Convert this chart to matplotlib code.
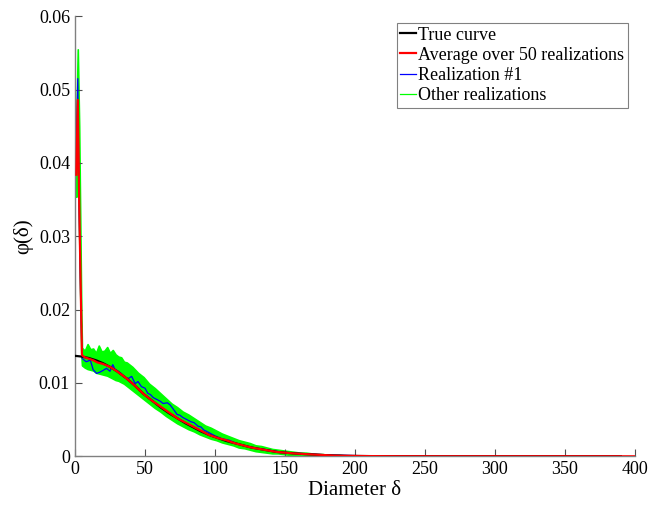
import numpy as np
import matplotlib
matplotlib.use('Agg')
import matplotlib.pyplot as plt
from matplotlib.lines import Line2D

plt.rcParams['font.family'] = ['Liberation Serif', 'DejaVu Serif']

# true curve
x_true = [0, 5, 10, 15, 20, 25, 30, 37, 43, 49, 55, 61, 67, 73, 79, 85, 90, 96, 102, 108,
          114, 120, 126, 132, 138, 144, 150, 156, 165, 175, 185, 195, 210, 230, 260, 390]
y_true = [0.0137, 0.0136, 0.0134, 0.0131, 0.0127, 0.0122, 0.0116, 0.0106, 0.0096, 0.0085,
          0.0076, 0.0067, 0.0059, 0.0052, 0.0045, 0.0039, 0.0034, 0.0029, 0.0025, 0.0021,
          0.0018, 0.0015, 0.0012, 0.0010, 0.0008, 0.0006, 0.0005, 0.0004, 0.0003, 0.0002,
          0.0001, 0.00006, 0.00003, 0.00001, 0.0, 0.0]

# average over 50 realizations
x_avg = [1, 2, 3, 4, 5, 7, 10, 13, 16, 20, 25, 30, 37, 43, 49, 55, 61, 67, 73, 79, 85, 90,
         96, 102, 108, 114, 120, 126, 132, 138, 144, 150, 156, 165, 175, 185, 195, 210, 230,
         260, 300, 350, 400]
y_avg = [0.0384, 0.0486, 0.035, 0.024, 0.0138, 0.0135, 0.0133, 0.0131, 0.0128, 0.0126,
         0.0122, 0.0116, 0.0106, 0.0096, 0.0085, 0.0076, 0.0068, 0.0060, 0.0052, 0.0046,
         0.0040, 0.0035, 0.0029, 0.0025, 0.0022, 0.0018, 0.0015, 0.0012, 0.0010, 0.0008,
         0.0006, 0.0005, 0.0004, 0.0003, 0.0002, 0.0001, 0.00006, 0.00003, 0.00001, 0.0,
         0.0, 0.0, 0.0]

# realization #1
x_r1 = [1, 2, 3, 4, 5, 6, 8, 11, 13, 15.5, 18, 20, 22.5, 25, 27, 28.5, 31, 33, 35.5, 38,
        40.5, 43, 45, 47.5, 50, 52, 54, 56, 58, 61, 63, 66, 68, 70, 73, 75, 77, 80, 83, 85,
        88, 90, 92, 95, 100, 105, 110, 115, 120, 125, 130, 140, 150, 160, 170, 180, 200,
        220, 250, 300, 390]
y_r1 = [0.042, 0.0515, 0.033, 0.022, 0.0134, 0.0132, 0.0129, 0.0131, 0.0118, 0.0113,
        0.0115, 0.0117, 0.0120, 0.0116, 0.0125, 0.0119, 0.0116, 0.0113, 0.0108, 0.0106,
        0.0109, 0.0099, 0.0102, 0.0095, 0.0093, 0.0086, 0.0084, 0.0080, 0.0078, 0.0075,
        0.0072, 0.0073, 0.0070, 0.0065, 0.0057, 0.0056, 0.0053, 0.0050, 0.0047, 0.0046,
        0.0041, 0.0040, 0.0036, 0.0033, 0.0028, 0.0024, 0.0022, 0.0018, 0.0015, 0.0013,
        0.0011, 0.0008, 0.0005, 0.0004, 0.0003, 0.0002, 0.0001, 0.00005, 0.0, 0.0, 0.0]

# spread of the other realizations (upper / lower edge)
x_oth = [1, 2, 3, 4.5, 5, 7, 9, 11, 13, 15, 17, 19, 21, 23, 25, 27, 29, 31, 33, 35, 37, 41,
         45, 49, 53, 57, 61, 65, 69, 73, 77, 81, 85, 89, 93, 97, 101, 105, 109, 113, 117,
         121, 125, 129, 133, 137, 141, 145, 149, 153, 157, 161, 165, 169, 173, 177, 181,
         185, 189, 193, 197, 201, 220, 260]
y_oth_hi = [0.046, 0.0555, 0.045, 0.020, 0.0148, 0.0144, 0.0153, 0.0146, 0.0147, 0.0141,
            0.0151, 0.0143, 0.0144, 0.0149, 0.0141, 0.0145, 0.0139, 0.0136, 0.0135, 0.0129,
            0.0128, 0.0122, 0.0114, 0.0108, 0.0099, 0.0093, 0.0086, 0.0079, 0.0072, 0.0067,
            0.0061, 0.0057, 0.0052, 0.0047, 0.0042, 0.0039, 0.0035, 0.0031, 0.0028, 0.0025,
            0.0022, 0.0020, 0.0018, 0.0015, 0.0014, 0.0012, 0.0010, 0.0009, 0.0008, 0.0007,
            0.0006, 0.0005, 0.0005, 0.0004, 0.0003, 0.0003, 0.0002, 0.0002, 0.0002, 0.0001,
            0.0001, 0.0001, 0.00005, 0.0]
y_oth_lo = [0.0354, 0.044, 0.030, 0.014, 0.0124, 0.0121, 0.0119, 0.0118, 0.0117, 0.0114,
            0.0113, 0.0112, 0.0111, 0.0110, 0.0108, 0.0106, 0.0104, 0.0103, 0.0101, 0.0099,
            0.0096, 0.0090, 0.0084, 0.0078, 0.0072, 0.0066, 0.0061, 0.0055, 0.0050, 0.0045,
            0.0041, 0.0037, 0.0034, 0.0030, 0.0027, 0.0024, 0.0022, 0.0019, 0.0017, 0.0015,
            0.0012, 0.0011, 0.0009, 0.0007, 0.0006, 0.0005, 0.0004, 0.0004, 0.0003, 0.0002,
            0.0002, 0.0001, 0.0001, 0.0001, 0.0, 0.0, 0.0, 0.0, 0.0, 0.0,
            0.0, 0.0, 0.0, 0.0]

fig = plt.figure(figsize=(6.48, 5.05), dpi=100)
ax = fig.add_axes([0.1157, 0.0964, 0.864, 0.8713])

green = '#00ff00'
ax.fill_between(x_oth, y_oth_lo, y_oth_hi, color=green, lw=1.2, edgecolor=green, zorder=1)
ax.plot(x_r1, y_r1, color='#0000ff', lw=0.9, zorder=2)
ax.plot(x_true, y_true, color='black', lw=1.6, zorder=3)
ax.plot(x_avg, y_avg, color='#ff0000', lw=1.6, zorder=4)

ax.set_xlim(0, 400)
ax.set_ylim(0, 0.06)
ax.set_xticks(np.arange(0, 401, 50))
ax.set_yticks([0, 0.01, 0.02, 0.03, 0.04, 0.05, 0.06])
ax.set_yticklabels(['0', '0.01', '0.02', '0.03', '0.04', '0.05', '0.06'])
ax.tick_params(direction='in', length=5, width=0.8, colors='#505050', labelsize=13,
               labelcolor='black', top=False, right=False)
for s in ['top', 'right']:
    ax.spines[s].set_visible(False)
for s in ['left', 'bottom']:
    ax.spines[s].set_color('#808080')
    ax.spines[s].set_linewidth(1.0)

ax.set_xlabel('Diameter δ', fontsize=15, labelpad=2)
ax.set_ylabel('φ(δ)', fontsize=15, labelpad=4)

handles = [Line2D([], [], color='black', lw=1.6),
           Line2D([], [], color='#ff0000', lw=1.6),
           Line2D([], [], color='#0000ff', lw=0.9),
           Line2D([], [], color=green, lw=0.9)]
labels = ['True curve', 'Average over 50 realizations', 'Realization #1', 'Other realizations']
leg = ax.legend(handles, labels, loc='upper right', bbox_to_anchor=(0.9875, 0.985),
                borderaxespad=0, fontsize=13, fancybox=False, framealpha=1,
                edgecolor='#808080', handlelength=0.85, handletextpad=0.15,
                labelspacing=0.18, borderpad=0.2)
leg.get_frame().set_linewidth(0.8)

fig.savefig('out.png', dpi=100)
